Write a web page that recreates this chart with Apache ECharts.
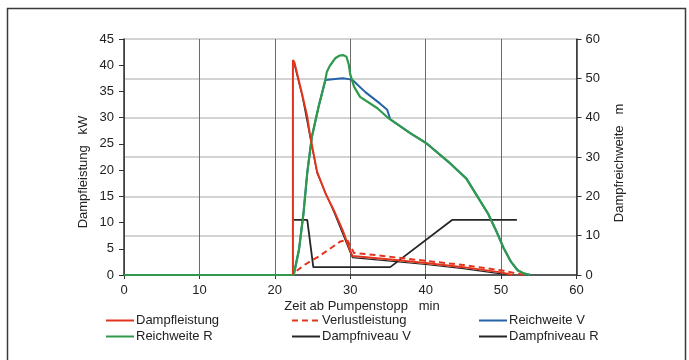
<!DOCTYPE html>
<html><head><meta charset="utf-8">
<script src="https://cdn.jsdelivr.net/npm/echarts@6/dist/echarts.min.js"></script>
<style>html,body{margin:0;padding:0;background:#fff}#c{width:689px;height:360px}</style>
</head><body><div id="c"></div>
<script>
// Dampfleistung (kW, left axis)
const tDampf = [22.4, 22.4, 22.6, 23.6, 24.3, 24.7, 25.6, 26.7, 27.8, 29.0, 30.0, 30.3, 35, 40, 45, 50, 51.5];
const vDampf = [0, 41, 40.5, 34.6, 30.2, 26.4, 19.7, 15.6, 12.4, 8.5, 4.6, 3.6, 3.0, 2.3, 1.5, 0.5, 0];
// Verlustleistung (kW, left axis)
const tVerl = [22.9, 24.0, 25.8, 27.3, 28.7, 29.6, 30.0, 30.5, 33.3, 40, 45, 50, 53];
const vVerl = [0.8, 2.0, 3.5, 5.0, 6.4, 6.7, 5.6, 4.2, 3.8, 2.7, 1.9, 0.9, 0];
// Reichweite V (m, right axis)
const tRwV = [0, 22.5, 23.2, 23.8, 24.3, 24.9, 25.8, 26.7, 26.8, 29.0, 29.8, 30.3, 32.0, 34.0, 34.9, 35.3, 38.0, 40.1, 43.3, 45.4, 47.3, 48.3, 49.5, 50.3, 51.3, 52.2, 53.0, 53.9];
const vRwV = [0, 0, 6.4, 15.7, 26, 35, 42.8, 49.6, 50, 50, 49.8, 49.6, 46.5, 43.5, 42, 39.6, 36.0, 33.5, 28.3, 24.5, 18.6, 15.5, 10.6, 7.0, 3.4, 1.2, 0.4, 0];
// Reichweite R (m, right axis)
const tRwR = [0, 22.5, 23.2, 23.8, 24.3, 24.9, 25.8, 26.7, 26.9, 27.3, 28.0, 28.6, 29.1, 29.5, 29.8, 30.0, 30.5, 31.3, 33.6, 35.1, 38.0, 40.1, 43.3, 45.4, 47.3, 48.3, 49.5, 50.3, 51.3, 52.2, 53.0, 53.9];
const vRwR = [0, 0, 6.4, 15.7, 26, 35, 42.8, 49.6, 51.7, 53.2, 55.1, 55.8, 55.9, 55.5, 53.5, 51, 47.9, 45.3, 42.4, 39.8, 36.0, 33.5, 28.3, 24.5, 18.6, 15.5, 10.6, 7.0, 3.4, 1.2, 0.4, 0];
// Dampfniveau V (m, right axis)
const tNivV = [22.5, 24.3, 25.1, 35.3, 43.5, 52.1];
const vNivV = [14, 14, 2, 2, 14, 14];
// Dampfniveau R (left axis)
const tNivR = [22.5, 23.6, 24.7, 25.6, 27.8, 30.0, 30.3, 35, 40, 45, 50, 51.5];
const vNivR = [40.6, 34.3, 26.1, 19.4, 12.1, 4.3, 3.3, 2.7, 2.0, 1.2, 0.2, 0];

const xTicks = {min: 0, max: 60, interval: 10};
const yLeftTicks = {min: 0, max: 45, interval: 5};
const yRightTicks = {min: 0, max: 60, interval: 10};
const legendNames = ['Dampfleistung', 'Verlustleistung', 'Reichweite V', 'Reichweite R', 'Dampfniveau V', 'Dampfniveau R'];

const zip = (a, b) => a.map((x, i) => [x, b[i]]);
const FONT = 'Liberation Sans, Arial, sans-serif';
const RED = '#e2341d', BLUE = '#2563a8', GREEN = '#2f9a4c', BLACK = '#262626';

const lbl = {fontSize: 13, color: '#222', fontFamily: FONT};
const legendPos = [[105, 314], [291, 314], [478, 314], [105, 330], [291, 330], [478, 330]];

const chart = echarts.init(document.getElementById('c'), null, {renderer: 'canvas'});
chart.setOption({
  animation: false,
  backgroundColor: '#fff',
  grid: {left: 124, right: 112.5, top: 39, bottom: 85},
  xAxis: {
    type: 'value', min: xTicks.min, max: xTicks.max, interval: xTicks.interval,
    axisLine: {show: true, onZero: false, lineStyle: {color: '#333', width: 1.5}},
    axisTick: {show: true, length: 4, lineStyle: {color: '#333'}},
    axisLabel: Object.assign({margin: 9}, lbl),
    splitLine: {show: true, lineStyle: {color: '#6a6a6a', width: 1}}
  },
  yAxis: [
    {type: 'value', position: 'left', min: yLeftTicks.min, max: yLeftTicks.max, interval: yLeftTicks.interval,
     axisLine: {show: true, lineStyle: {color: '#333', width: 1.5}},
     axisTick: {show: true, length: 5, lineStyle: {color: '#333'}},
     axisLabel: Object.assign({margin: 10}, lbl),
     splitLine: {show: false}},
    {type: 'value', position: 'right', min: yRightTicks.min, max: yRightTicks.max, interval: yRightTicks.interval,
     axisLine: {show: true, lineStyle: {color: '#333', width: 1.5}},
     axisTick: {show: true, length: 5, lineStyle: {color: '#333'}},
     axisLabel: Object.assign({margin: 9}, lbl),
     splitLine: {show: true, lineStyle: {color: '#c4c4c4', width: 1.5}}}
  ],
  legend: legendNames.map((n, i) => ({
    data: [n], left: legendPos[i][0], top: legendPos[i][1], itemWidth: 28, itemHeight: 12,
    padding: 0, selectedMode: false, itemStyle: {opacity: 0},
    textStyle: Object.assign({}, lbl, {padding: [0, 0, 0, -3]})
  })),
  graphic: [
    {type: 'text', x: 83, y: 172, rotation: Math.PI / 2, style: {text: 'Dampfleistung   kW', font: '13px ' + FONT, fill: '#222', align: 'center', verticalAlign: 'middle'}},
    {type: 'text', x: 619, y: 163, rotation: Math.PI / 2, style: {text: 'Dampfreichweite   m', font: '13px ' + FONT, fill: '#222', align: 'center', verticalAlign: 'middle'}},
    {type: 'text', x: 362, y: 306, style: {text: 'Zeit ab Pumpenstopp   min', font: '13px ' + FONT, fill: '#222', align: 'center', verticalAlign: 'middle'}},
    {type: 'rect', shape: {x: 7.5, y: 8.5, width: 678, height: 360}, style: {fill: 'none', stroke: '#3a3a3a', lineWidth: 1.5}, silent: true}
  ],
  series: [
    {name: 'Dampfleistung', type: 'line', yAxisIndex: 0, data: zip(tDampf, vDampf), symbol: 'none', z: 5,
     lineStyle: {color: RED, width: 2}, itemStyle: {color: RED}},
    {name: 'Verlustleistung', type: 'line', yAxisIndex: 0, data: zip(tVerl, vVerl), symbol: 'none', z: 4,
     lineStyle: {color: RED, width: 2, type: [6, 4]}, itemStyle: {color: RED}},
    {name: 'Reichweite V', type: 'line', yAxisIndex: 1, data: zip(tRwV, vRwV), symbol: 'none', z: 3,
     lineStyle: {color: BLUE, width: 2}, itemStyle: {color: BLUE}},
    {name: 'Reichweite R', type: 'line', yAxisIndex: 1, data: zip(tRwR, vRwR), symbol: 'none', z: 4,
     lineStyle: {color: GREEN, width: 2.2}, itemStyle: {color: GREEN}},
    {name: 'Dampfniveau V', type: 'line', yAxisIndex: 1, data: zip(tNivV, vNivV), symbol: 'none', z: 3,
     lineStyle: {color: BLACK, width: 1.8}, itemStyle: {color: BLACK}},
    {name: 'Dampfniveau R', type: 'line', yAxisIndex: 0, data: zip(tNivR, vNivR), symbol: 'none', z: 2,
     lineStyle: {color: BLACK, width: 1.2}, itemStyle: {color: BLACK}}
  ]
});
</script></body></html>
